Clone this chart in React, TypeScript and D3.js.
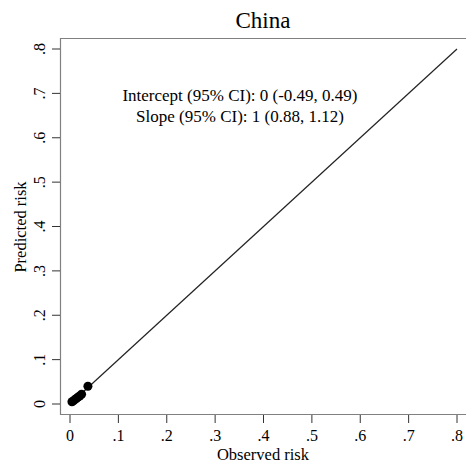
import React, { useRef, useEffect } from 'react';
import * as d3 from 'd3';

// calibration points
const observed = [0.004, 0.007, 0.01, 0.013, 0.016, 0.02, 0.024, 0.037];
const predicted = [0.005, 0.007, 0.01, 0.012, 0.015, 0.018, 0.022, 0.04];
const ticks = [0, 0.1, 0.2, 0.3, 0.4, 0.5, 0.6, 0.7, 0.8];
const annotations = ['Intercept (95% CI): 0 (-0.49, 0.49)', 'Slope (95% CI): 1 (0.88, 1.12)'];

const W = 466;
const H = 465;
const FONT = '"Liberation Serif", "Times New Roman", serif';

const App = () => {
  const svgRef = useRef<SVGSVGElement>(null);

  useEffect(() => {
    const svg = d3.select(svgRef.current);
    svg.selectAll('*').remove();

    const x = d3.scaleLinear().domain([0, 0.8]).range([70, 457]);
    const y = d3.scaleLinear().domain([0, 0.8]).range([404, 49]);
    const fmt = (t: number) => (t === 0 ? '0' : d3.format('.1f')(t).replace(/^0/, ''));

    // frame (left, top, bottom; right edge runs off the canvas)
    svg.append('path')
      .attr('d', `M${W + 2},38.5 H60.5 V414.5 H${W + 2}`)
      .attr('fill', 'none')
      .attr('stroke', '#808080')
      .attr('stroke-width', 1.2);

    // x ticks
    const gx = svg.append('g');
    ticks.forEach(t => {
      gx.append('line')
        .attr('x1', x(t)).attr('x2', x(t))
        .attr('y1', 415).attr('y2', 423)
        .attr('stroke', '#333');
      gx.append('text')
        .attr('x', x(t)).attr('y', 441)
        .attr('text-anchor', 'middle')
        .attr('font-family', FONT).attr('font-size', 16)
        .text(fmt(t));
    });

    // y ticks
    const gy = svg.append('g');
    ticks.forEach(t => {
      gy.append('line')
        .attr('x1', 52).attr('x2', 60)
        .attr('y1', y(t)).attr('y2', y(t))
        .attr('stroke', '#333');
      gy.append('text')
        .attr('transform', `translate(45,${y(t)}) rotate(-90)`)
        .attr('text-anchor', 'middle')
        .attr('font-family', FONT).attr('font-size', 16)
        .text(fmt(t));
    });

    // reference line
    svg.append('line')
      .attr('x1', x(observed[0])).attr('y1', y(observed[0]))
      .attr('x2', x(0.8)).attr('y2', y(0.8))
      .attr('stroke', '#222')
      .attr('stroke-width', 1.2);

    // points
    svg.append('g')
      .selectAll('circle')
      .data(observed)
      .enter()
      .append('circle')
      .attr('cx', d => x(d))
      .attr('cy', (d, i) => y(predicted[i]))
      .attr('r', 4.5)
      .attr('fill', '#000');

    // title and labels
    svg.append('text')
      .attr('x', 263).attr('y', 28)
      .attr('text-anchor', 'middle')
      .attr('font-family', FONT).attr('font-size', 23)
      .text('China');

    annotations.forEach((a, i) => {
      svg.append('text')
        .attr('x', 240).attr('y', 101 + i * 21)
        .attr('text-anchor', 'middle')
        .attr('font-family', FONT).attr('font-size', 17)
        .text(a);
    });

    svg.append('text')
      .attr('x', 263).attr('y', 460)
      .attr('text-anchor', 'middle')
      .attr('font-family', FONT).attr('font-size', 16.5)
      .text('Observed risk');

    svg.append('text')
      .attr('transform', 'translate(26,227) rotate(-90)')
      .attr('text-anchor', 'middle')
      .attr('font-family', FONT).attr('font-size', 16.5)
      .text('Predicted risk');
  }, []);

  return (
    <svg
      ref={svgRef}
      width={W}
      height={H}
      style={{ position: 'absolute', left: 0, top: 0, background: '#fff' }}
    />
  );
};

export default App;
